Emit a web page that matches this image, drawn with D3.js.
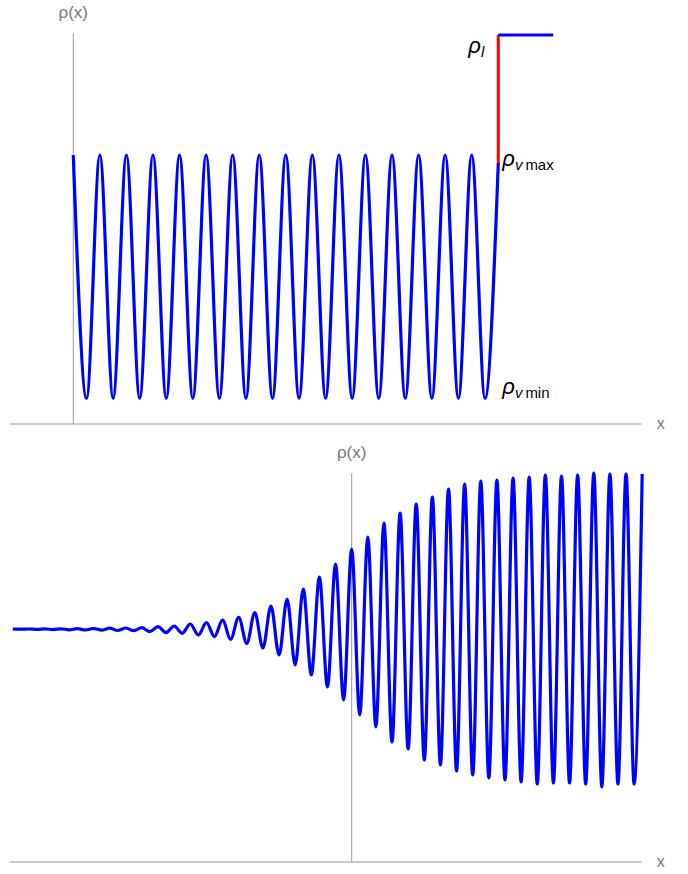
<!DOCTYPE html>
<html><head><meta charset="utf-8">
<script src="https://cdn.jsdelivr.net/npm/d3@7"></script>
<style>body{margin:0;background:#fff}svg{display:block}</style>
</head><body>
<script>
// ---------- DATA ----------
// Top panel: successive extrema of rho(x) in the vapour region (x in oscillation periods)
const topX = [0,0.5,1,1.5,2,2.5,3,3.5,4,4.5,5,5.5,6,6.5,7,7.5,8,8.5,9,9.5,10,10.5,11,11.5,12,12.5,13,13.5,14,14.5,15,15.5,16];
const topRho = [0.6915,0.066,0.6915,0.066,0.6915,0.066,0.6915,0.066,0.6915,0.066,0.6915,0.066,0.6915,0.066,0.6915,0.066,0.6915,0.066,0.6915,0.066,0.6915,0.066,0.6915,0.066,0.6915,0.066,0.6915,0.066,0.6915,0.066,0.6915,0.066,0.671];
// liquid step
const jumpX = [16, 16];
const jumpRho = [0.671, 1.0];
const liquidX = [16, 18.07];
const liquidRho = [1.0, 1.0];
const topLabels = ["ρ", "l", "ρ", "v max", "ρ", "v min"];

// Bottom panel: successive extrema of rho(x)
const botX = [-21,-20.5,-20,-19.5,-19,-18.5,-18,-17.5,-17,-16.5,-16,-15.5,-15,-14.5,-14,-13.5,-13,-12.5,-12,-11.5,-11,-10.5,-10,-9.5,-9,-8.5,-8,-7.5,-7,-6.5,-6,-5.5,-5,-4.5,-4,-3.5,-3,-2.5,-2,-1.5,-1,-0.5,0,0.5,1,1.5,2,2.5,3,3.5,4,4.5,5,5.5,6,6.5,7,7.5,8,8.5,9,9.5,10,10.5,11,11.5,12,12.5,13,13.5,14,14.5,15,15.5,16,16.5,17,17.5,18];
const botRho = [0.5990,0.5985,0.5990,0.5979,0.5992,0.5974,0.5995,0.5969,0.5997,0.5964,0.6003,0.5959,0.6010,0.5951,0.6015,0.5946,0.6023,0.5920,0.6049,0.5895,0.6067,0.5879,0.6118,0.5835,0.6152,0.5792,0.6221,0.5725,0.6290,0.5622,0.6409,0.5501,0.6581,0.5321,0.6761,0.5064,0.7018,0.4807,0.7326,0.4499,0.7661,0.4165,0.8046,0.3779,0.8355,0.3470,0.8715,0.3085,0.8972,0.2905,0.9203,0.2622,0.9383,0.2494,0.9589,0.2339,0.9717,0.2237,0.9794,0.2159,0.9820,0.2108,0.9871,0.2057,0.9897,0.2005,0.9949,0.2031,0.9923,0.2031,0.9949,0.2005,1.000,0.1928,0.9974,0.2005,0.9974,0.2005,0.9974];
const axisLabels = ["ρ(x)", "x"];

// ---------- DRAWING ----------
const W = 688, H = 874;
const svg = d3.select("body").append("svg").attr("width", W).attr("height", H);
const axisColor = "#999", labelColor = "#777", blue = "#0000ff", red = "#ff0000";
const font = "'Liberation Sans', Arial, sans-serif";

// scales
const xTop = d3.scaleLinear().domain([-2.383, 21.4]).range([10, 641.7]);
const yTop = d3.scaleLinear().domain([0, 1]).range([424, 35]);
const xBot = d3.scaleLinear().domain([-21.17, 17.97]).range([10, 641.7]);
const yBot = d3.scaleLinear().domain([0, 1]).range([862, 473]);

function drawAxes(g, xs, ys, yTopVal) {
  const x0 = xs.range()[0], x1 = xs.range()[1];
  g.append("line").attr("x1", x0).attr("x2", x1).attr("y1", ys(0)).attr("y2", ys(0))
    .attr("stroke", axisColor).attr("stroke-width", 1);
  g.append("line").attr("x1", xs(0)).attr("x2", xs(0)).attr("y1", ys(0)).attr("y2", ys(yTopVal))
    .attr("stroke", axisColor).attr("stroke-width", 1);
  g.append("text").attr("x", xs(0)).attr("y", ys(yTopVal) - 15).attr("text-anchor", "middle")
    .attr("font-family", font).attr("font-size", 17).attr("fill", labelColor).text(axisLabels[0]);
  g.append("text").attr("x", x1 + 19).attr("y", ys(0) + 5).attr("text-anchor", "middle")
    .attr("font-family", font).attr("font-size", 16).attr("fill", labelColor).text(axisLabels[1]);
}

const gTop = svg.append("g");
drawAxes(gTop, xTop, yTop, 1.004);
const lineTop = d3.line().x(d => xTop(d[0])).y(d => yTop(d[1])).curve(d3.curveMonotoneX);
gTop.append("path").datum(topX.map((x, i) => [x, topRho[i]])).attr("d", lineTop)
  .attr("fill", "none").attr("stroke", blue).attr("stroke-width", 3.2).attr("stroke-linejoin", "round");
gTop.append("path").datum(jumpX.map((x, i) => [x, jumpRho[i]]))
  .attr("d", d3.line().x(d => xTop(d[0])).y(d => yTop(d[1])))
  .attr("fill", "none").attr("stroke", red).attr("stroke-width", 3);
gTop.append("path").datum(liquidX.map((x, i) => [x, liquidRho[i]]))
  .attr("d", d3.line().x(d => xTop(d[0])).y(d => yTop(d[1])))
  .attr("fill", "none").attr("stroke", blue).attr("stroke-width", 3);

function rhoLabel(g, x, y, sub) {
  const t = g.append("text").attr("x", x).attr("y", y).attr("font-family", font).attr("fill", "#000");
  t.append("tspan").attr("font-size", 22).attr("font-style", "italic").text(topLabels[0]);
  const parts = sub.split(" ");
  t.append("tspan").attr("font-size", 15).attr("font-style", "italic").attr("dy", 4).text(parts[0]);
  if (parts[1]) t.append("tspan").attr("font-size", 15).attr("dx", 3).text(parts[1]);
}
rhoLabel(gTop, xTop(16) - 30, yTop(1) + 18, topLabels[1]);
rhoLabel(gTop, xTop(16) + 4, yTop(0.6915) + 11, topLabels[3]);
rhoLabel(gTop, xTop(16) + 4, yTop(0.066) - 4, topLabels[5]);

const gBot = svg.append("g");
drawAxes(gBot, xBot, yBot, 1.0);
const lineBot = d3.line().x(d => xBot(d[0])).y(d => yBot(d[1])).curve(d3.curveMonotoneX);
gBot.append("path").datum(botX.map((x, i) => [x, botRho[i]])).attr("d", lineBot)
  .attr("fill", "none").attr("stroke", blue).attr("stroke-width", 3.2).attr("stroke-linejoin", "round");
</script>
</body></html>
